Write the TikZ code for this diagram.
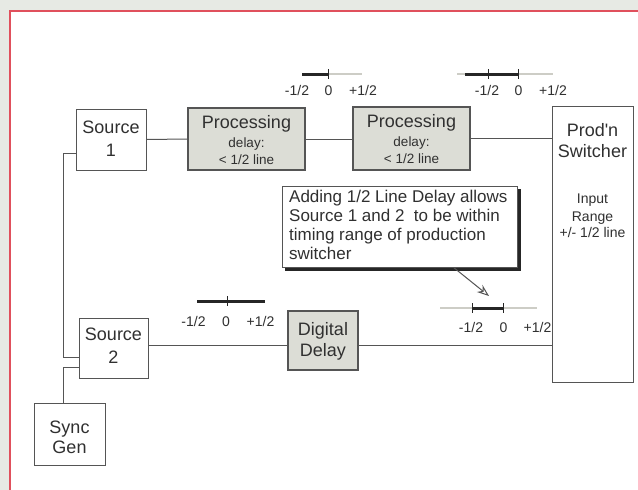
\documentclass[tikz,border=0pt]{standalone}
\usepackage{fontspec}
\setmainfont{Liberation Sans}
\usetikzlibrary{arrows.meta}
\definecolor{bg}{HTML}{E7EAE4}
\definecolor{framered}{HTML}{E0505C}
\definecolor{ink}{HTML}{303030}
\definecolor{wire}{HTML}{555555}
\definecolor{procfill}{HTML}{DCDDD6}
\definecolor{faint}{HTML}{CDCDC6}
\begin{document}
\begin{tikzpicture}[x=1pt,y=-1pt,
  box/.style={draw=wire,line width=1pt,fill=white,inner sep=0pt},
  procbox/.style={box,fill=procfill,line width=1.3pt},
  txt/.style={text=ink,inner sep=0pt,anchor=base},
  big/.style={txt,font=\fontsize{18}{20}\selectfont},
  mid/.style={txt,font=\fontsize{13.5}{15}\selectfont},
  lbl/.style={txt,font=\fontsize{14}{16}\selectfont},
  note/.style={txt,anchor=base west,font=\fontsize{17}{19}\selectfont},
  wireline/.style={draw=wire,line width=1pt},
  darkbar/.style={draw=black!85,line width=3pt},
  faintbar/.style={draw=faint,line width=2pt},
  tickmark/.style={draw=black!85,line width=1pt}]
% background and frame
\useasboundingbox (0,0) rectangle (638,490);
\fill[bg] (0,0) rectangle (638,490);
\fill[white] (10,11) rectangle (638,490);
\draw[framered,line width=1.5pt] (10,490) -- (10,11) -- (638,11);

% boxes
\node[box,minimum width=70pt,minimum height=61pt] (s1) at (111,139.5) {};
\node[procbox,minimum width=117pt,minimum height=62pt] (p1) at (246.5,139) {};
\node[procbox,minimum width=117pt,minimum height=63pt] (p2) at (411.5,138.5) {};
\node[box,minimum width=81pt,minimum height=276pt] (sw) at (592.5,244) {};
\node[box,minimum width=69pt,minimum height=60pt] (s2) at (113.5,348) {};
\node[procbox,minimum width=70pt,minimum height=59pt] (dd) at (323,340.5) {};
\node[box,minimum width=71pt,minimum height=62pt] (sync) at (69.5,434) {};

% box texts
\node[big] (s1a) at (111,133) {Source};
\node[big] (s1b) at (111,156) {1};
\node[big] (p1a) at (246.5,128) {Processing};
\node[mid] (p1b) at (246.5,147) {delay:};
\node[mid] (p1c) at (246.5,164) {< 1/2 line};
\node[big] (p2a) at (411.5,127) {Processing};
\node[mid] (p2b) at (411.5,146) {delay:};
\node[mid] (p2c) at (411.5,163) {< 1/2 line};
\node[big] (swa) at (592.5,136) {Prod\textquotesingle n};
\node[big] (swb) at (592.5,157) {Switcher};
\node[lbl] (swc) at (592.5,203) {Input};
\node[lbl] (swd) at (592.5,221) {Range};
\node[lbl] (swe) at (592.5,237) {+/- 1/2 line};
\node[big] (s2a) at (113.5,340) {Source};
\node[big] (s2b) at (113.5,363) {2};
\node[big] (dda) at (323,335) {Digital};
\node[big] (ddb) at (323,356) {Delay};
\node[big] (sya) at (69.5,433) {Sync};
\node[big] (syb) at (69.5,453) {Gen};

% connectors
\draw[wireline] (s1.east) -- (p1.west);
\draw[wireline] (p1.east) -- (p1.east -| p2.west);
\draw[wireline] (p2.east) -- (p2.east -| sw.west);
\draw[wireline] ([yshift=3pt]s2.east) -- ([yshift=3pt]s2.east -| dd.west);
\draw[wireline] ([yshift=3pt]s2.east -| dd.east) -- ([yshift=3pt]s2.east -| sw.west);
\coordinate (busx) at (63,0);
\draw[wireline] ([yshift=-13.5pt]s1.west) -| ([yshift=-9pt]s2.west -| busx) -- ([yshift=-9pt]s2.west);
\draw[wireline] (busx |- sync.north) |- ([yshift=-19pt]s2.west);

% timing scale 1
\draw[darkbar] (302,74) -- (328,74);
\draw[faintbar] (328,74) -- (362,74);
\draw[tickmark] (328,69) -- (328,79);
\node[lbl] (t1a) at (297,95) {-1/2};
\node[lbl] (t1b) at (328.5,95) {0};
\node[lbl] (t1c) at (363,95) {+1/2};

% timing scale 2
\draw[faintbar] (457,74) -- (465,74);
\draw[darkbar] (465,74) -- (518,74);
\draw[faintbar] (518,74) -- (553,74);
\draw[tickmark] (488,69) -- (488,79);
\draw[tickmark] (518,69) -- (518,79);
\node[lbl] (t2a) at (487,95) {-1/2};
\node[lbl] (t2b) at (518.5,95) {0};
\node[lbl] (t2c) at (553,95) {+1/2};

% timing scale 3
\draw[darkbar] (197,301) -- (265,301);
\draw[tickmark] (227,296) -- (227,306);
\node[lbl] (t3a) at (193.5,326) {-1/2};
\node[lbl] (t3b) at (226,326) {0};
\node[lbl] (t3c) at (260.5,326) {+1/2};

% timing scale 4
\draw[faintbar] (440,308) -- (472,308);
\draw[darkbar] (472,308) -- (503,308);
\draw[faintbar] (503,308) -- (537,308);
\draw[tickmark] (472,303) -- (472,313);
\draw[tickmark] (503,303) -- (503,313);
\node[lbl] (t4a) at (471,332) {-1/2};
\node[lbl] (t4b) at (503.5,332) {0};
\node[lbl] (t4c) at (537.5,332) {+1/2};

% callout
\fill[black!85] (285,189) rectangle (520.5,270.5);
\node[box,line width=0.8pt,minimum width=235pt,minimum height=81pt] (callout) at (399.5,226.5) {};
\node[note] (n1) at (289,202) {Adding 1/2 Line Delay allows};
\node[note] (n2) at (289,221) {Source 1 and 2\ \ to be within};
\node[note] (n3) at (289,240) {timing range of production};
\node[note] (n4) at (289,259) {switcher};
\coordinate (tip) at (489,296);
\draw[wireline,-{Stealth[open,length=12pt,width=9pt]}] ([xshift=54pt]callout.south) -- (tip);
\end{tikzpicture}
\end{document}
